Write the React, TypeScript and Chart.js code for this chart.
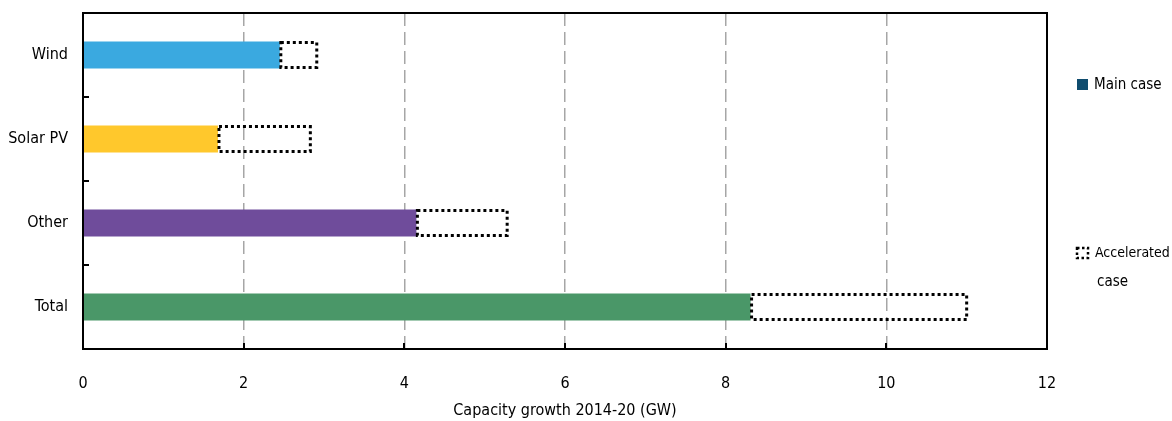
import React, { useEffect, useRef } from "react";
import { Chart, registerables } from "chart.js";

Chart.register(...registerables);

const categories = ["Wind", "Solar PV", "Other", "Total"];
const mainCase = [2.45, 1.68, 4.15, 8.31];
const acceleratedExtra = [0.46, 1.15, 1.13, 2.69];
const barColors = ["#3AA9E0", "#FFC82C", "#6F4C9B", "#4A9768"];
const xTicks = [0, 2, 4, 6, 8, 10, 12];
const legendLabels = ["Main case", "Accelerated", "case"];

const FONT = "'Liberation Sans Narrow', 'DejaVu Sans Condensed', 'Open Sans', sans-serif";

const framePlugin = {
  id: "frame",
  afterDatasetsDraw(chart: any) {
    const ctx = chart.ctx;
    const meta = chart.getDatasetMeta(1);
    ctx.save();
    ctx.strokeStyle = "#000";
    ctx.lineWidth = 3;
    ctx.setLineDash([3, 3]);
    meta.data.forEach((bar: any) => {
      const p = bar.getProps(["x", "y", "base", "height"], true);
      const x0 = Math.min(p.base, p.x);
      const x1 = Math.max(p.base, p.x);
      const y0 = p.y - p.height / 2;
      ctx.strokeRect(x0 + 1, y0 + 1, x1 - x0 - 1, p.height - 2);
    });
    ctx.restore();
  },
  afterDraw(chart: any) {
    const ctx = chart.ctx;
    const area = chart.chartArea;
    const xs = chart.scales.x;
    const ys = chart.scales.y;
    ctx.save();
    ctx.strokeStyle = "#000";
    ctx.lineWidth = 2;
    ctx.setLineDash([]);
    ctx.strokeRect(area.left, area.top, area.right - area.left, area.bottom - area.top);
    xTicks.forEach((v) => {
      const px = Math.round(xs.getPixelForValue(v));
      ctx.beginPath();
      ctx.moveTo(px, area.bottom);
      ctx.lineTo(px, area.bottom - 6);
      ctx.stroke();
    });
    for (let i = 0; i < categories.length - 1; i++) {
      const py = Math.round((ys.getPixelForValue(i) + ys.getPixelForValue(i + 1)) / 2);
      ctx.beginPath();
      ctx.moveTo(area.left, py);
      ctx.lineTo(area.left + 6, py);
      ctx.stroke();
    }
    // legend
    ctx.fillStyle = "#0F4C6E";
    ctx.fillRect(1077, 79, 11, 11);
    ctx.strokeStyle = "#000";
    ctx.lineWidth = 2.5;
    ctx.setLineDash([2.5, 2.5]);
    ctx.strokeRect(1077, 248, 11, 10);
    ctx.setLineDash([]);
    ctx.fillStyle = "#000";
    ctx.textBaseline = "middle";
    ctx.textAlign = "left";
    ctx.font = "15px " + FONT;
    ctx.fillText(legendLabels[0], 1094, 85);
    ctx.font = "14px " + FONT;
    ctx.fillText(legendLabels[1], 1095, 253);
    ctx.font = "15px " + FONT;
    ctx.fillText(legendLabels[2], 1097, 282);
    ctx.restore();
  },
};

export default function App() {
  const ref = useRef<HTMLCanvasElement | null>(null);
  useEffect(() => {
    if (!ref.current) return;
    const chart = new Chart(ref.current, {
      type: "bar",
      data: {
        labels: categories,
        datasets: [
          {
            label: "Main case",
            data: mainCase,
            backgroundColor: barColors,
            borderWidth: 0,
            barPercentage: 0.4,
            categoryPercentage: 0.8,
          },
          {
            label: "Accelerated case",
            data: acceleratedExtra,
            backgroundColor: "rgba(0,0,0,0)",
            borderWidth: 0,
            barPercentage: 0.4,
            categoryPercentage: 0.8,
          },
        ],
      },
      options: {
        indexAxis: "y",
        animation: false,
        responsive: false,
        maintainAspectRatio: false,
        layout: { padding: { top: 13, right: 125, left: 0, bottom: 0 } },
        plugins: { legend: { display: false }, tooltip: { enabled: false } },
        scales: {
          x: {
            stacked: true,
            min: 0,
            max: 12,
            afterBuildTicks: (scale: any) => {
              scale.ticks = xTicks.map((v) => ({ value: v }));
            },
            afterFit: (scale: any) => {
              scale.height = 72;
              scale.paddingLeft = 0;
              scale.paddingRight = 0;
            },
            ticks: {
              color: "#000",
              font: { family: FONT, size: 16 },
              padding: 25,
            },
            grid: {
              display: true,
              drawTicks: false,
              color: (c: any) => (c.tick && (c.tick.value === 0 || c.tick.value === 12) ? "rgba(0,0,0,0)" : "#A6A6A6"),
              lineWidth: 1.5,
            },
            border: { display: false, dash: [13, 6] },
            title: {
              display: true,
              text: "Capacity growth 2014-20 (GW)",
              color: "#000",
              font: { family: FONT, size: 16 },
              padding: { top: 4, bottom: 1 },
            },
          },
          y: {
            stacked: true,
            afterFit: (scale: any) => {
              scale.width = 83;
              scale.paddingTop = 0;
              scale.paddingBottom = 0;
            },
            ticks: {
              color: "#000",
              font: { family: FONT, size: 16 },
              padding: 15,
            },
            grid: { display: false, drawTicks: false },
            border: { display: false },
          },
        },
      },
      plugins: [framePlugin],
    });
    return () => chart.destroy();
  }, []);
  return (
    <div style={{ position: "fixed", left: 0, top: 0, width: 1172, height: 421, background: "#fff" }}>
      <canvas ref={ref} width={1172} height={421} />
    </div>
  );
}
